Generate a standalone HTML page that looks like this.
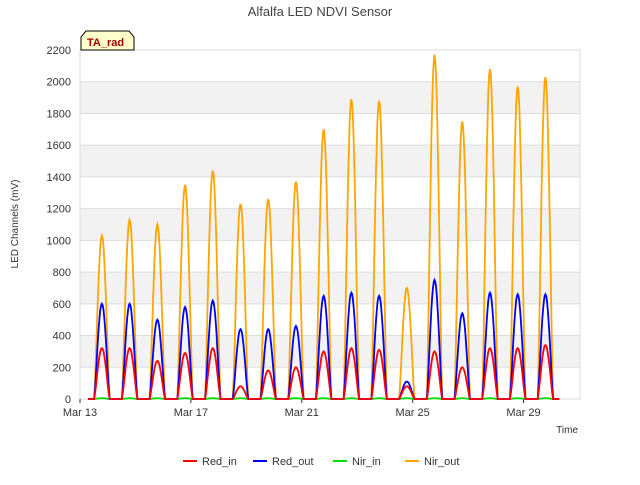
<!DOCTYPE html>
<html><head><meta charset="utf-8"><style>
body{margin:0;background:#fff;font-family:"Liberation Sans","DejaVu Sans",sans-serif}
</style></head><body>
<svg id="c" width="640" height="480" xmlns="http://www.w3.org/2000/svg">
<rect width="640" height="480" fill="#fff"/>
<g id="bands"></g>
<g id="grid"></g>
<rect x="80" y="50" width="500" height="349" fill="none" stroke="#ddd"/>
<text x="320" y="16" text-anchor="middle" font-size="13" fill="#444">Alfalfa LED NDVI Sensor</text>
<text x="18" y="224" text-anchor="middle" font-size="10" fill="#333" transform="rotate(-90 18 224)">LED Channels (mV)</text>
<text x="578" y="433" text-anchor="end" font-size="10" fill="#333">Time</text>
<g id="yt"></g><g id="xt"></g>
<g id="series"></g>
<g>
<path d="M81,50 L81,37 L86,31 L129,31 L134,37 L134,50 Z" fill="#ffffcc" stroke="#000"/>
<text x="87" y="46" font-size="11" font-weight="bold" fill="#a00000">TA_rad</text>
</g>
<g id="legend"></g>
</svg>
<script>
const days=[13,14,15,16,17,18,19,20,21,22,23,24,25,26,27,28,29];
const nirOut=[1030,1130,1100,1350,1440,1230,1260,1370,1700,1890,1880,700,2170,1750,2080,1970,2030];
const redOut=[600,600,500,580,620,440,440,460,650,670,650,110,750,540,670,660,660];
const redIn=[320,320,240,290,320,80,180,200,300,320,310,80,300,200,320,320,340];
const nirIn=[5,5,5,5,5,5,5,5,5,5,5,5,5,5,5,5,5];
const yTicks=[0,200,400,600,800,1000,1200,1400,1600,1800,2000,2200];
const xTickDays=[13,17,21,25,29];
const xTickLabels=["Mar 13","Mar 17","Mar 21","Mar 25","Mar 29"];
const NS="http://www.w3.org/2000/svg";
const X=d=>80+(d-13)*27.72, Y=v=>399-v*349/2200;
function mk(t,a,p){const e=document.createElementNS(NS,t);for(const k in a)e.setAttribute(k,a[k]);p.appendChild(e);return e;}
const bands=document.getElementById('bands'),grid=document.getElementById('grid');
for(let v=200;v<2200;v+=400){const r=mk('rect',{x:80,y:Y(v+200),width:500,height:Y(v)-Y(v+200),fill:'#f2f2f2'},bands);

}
const yt=document.getElementById('yt');
yTicks.forEach(v=>{const l=mk('line',{x1:80,x2:580,y1:Y(v),y2:Y(v),stroke:'#ddd'},grid);


const t=mk('text',{x:71,y:Y(v)+4,'text-anchor':'end','font-size':11,fill:'#333'},yt);t.textContent=v;

});
const xt=document.getElementById('xt');
xTickDays.forEach((d,i)=>{mk('line',{x1:X(d),x2:X(d),y1:399,y2:403,stroke:'#333'},xt);
const t=mk('text',{x:X(d),y:416,'text-anchor':'middle','font-size':11,fill:'#333'},xt);t.textContent=xTickLabels[i];

});
function path(vals){let pts=[];const hw=0.28;
days.forEach((d,i)=>{const c=d+0.79;pts.push([X(c-0.5),Y(0)]);
for(let k=0;k<=20;k++){const t=-hw+2*hw*k/20;const s=Math.cos(t/hw*Math.PI/2);pts.push([X(c+t),Y(vals[i]*Math.pow(s,1.3))]);}
pts.push([X(c+0.5),Y(0)]);});
return 'M'+pts.map(p=>p[0].toFixed(1)+','+p[1].toFixed(1)).join('L');}
const ser=document.getElementById('series');
[[nirIn,'#00dd00','series-nir-in'],[nirOut,'#ffa500','series-nir-out'],[redOut,'#0000ff','series-red-out'],[redIn,'#ff0000','series-red-in']].forEach(s=>{
const p=mk('path',{d:path(s[0]),fill:'none',stroke:s[1],'stroke-width':1.8},ser);

});
const lg=document.getElementById('legend');
[['Red_in','#ff0000',183],['Red_out','#0000ff',253],['Nir_in','#00dd00',333],['Nir_out','#ffa500',405]].forEach(e=>{
const g=mk('g',{},lg);


mk('line',{x1:e[2],x2:e[2]+14,y1:461,y2:461,stroke:e[1],'stroke-width':2},g);
const t=mk('text',{x:e[2]+19,y:465,'font-size':11,fill:'#333'},g);t.textContent=e[0];});
</script>
</body></html>
